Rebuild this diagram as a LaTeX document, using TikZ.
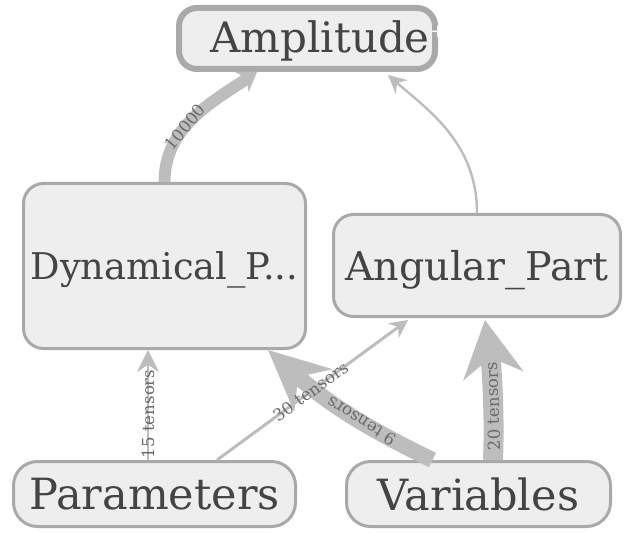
\documentclass[tikz,border=0pt]{standalone}
\usepackage{fontspec}
\setmainfont{DejaVu Serif}
\usepackage{xcolor}
\usetikzlibrary{arrows.meta}
\definecolor{boxfill}{HTML}{EEEEEE}
\definecolor{boxline}{HTML}{A9A9A9}
\definecolor{edgeline}{HTML}{BDBDBD}
\definecolor{nodetext}{HTML}{444444}
\definecolor{labeltext}{HTML}{6A6A6A}
\tikzset{opbox/.style={draw=boxline, fill=boxfill, line width=1.5pt,
  rounded corners=10pt, inner sep=0pt, text=nodetext, text depth=0pt}}
\tikzset{flow/.style={draw=edgeline}}
\tikzset{tlabel/.style={sloped, allow upside down, inner sep=0pt,
  font=\fontsize{8.3}{9}\selectfont, text=labeltext}}

\begin{document}
\begin{tikzpicture}[x=0.5pt, y=-0.5pt]
\useasboundingbox (0,0) rectangle (624,533);

\node[opbox, line width=3pt, rounded corners=9pt, minimum width=128pt, minimum height=30.5pt] (amp) at (307,38.5) {};
\node[text=nodetext, text depth=0pt, font=\fontsize{21}{23}\selectfont] (amptext) at (320,37) {Amplitude};
\node[text=white, font=\fontsize{9}{9}\selectfont] (ampplus) at (438,32) {+};

\node[opbox, minimum width=141pt, minimum height=82.5pt, font=\fontsize{18.4}{20}\selectfont] (dyn) at (164.5,266) {Dynamical\_P...};
\node[opbox, minimum width=143.5pt, minimum height=51pt, font=\fontsize{19.8}{22}\selectfont] (ang) at (477,265.5) {Angular\_Part};
\node[opbox, rounded corners=12pt, minimum width=141pt, minimum height=32.5pt, font=\fontsize{21.5}{23}\selectfont] (par) at (154.5,494) {Parameters};
\node[opbox, rounded corners=12pt, minimum width=132pt, minimum height=32.5pt, font=\fontsize{21.5}{23}\selectfont] (var) at (478.5,494) {Variables};

\coordinate (p15) at ([xshift=-3.25pt]par.north);

\draw[flow, line width=6pt, -{Stealth[length=9pt, width=12pt]}] (dyn.north) .. controls +(0,-55) and +(-45,30) .. ([xshift=-25pt]amp.south) node[tlabel, pos=0.41] (l10000) {10000};
\draw[flow, line width=1.2pt, -{Stealth[length=9pt, width=9pt]}] (ang.north) .. controls +(0,-70) and +(40,35) .. ([xshift=40.5pt, yshift=-1.5pt]amp.south);
\draw[flow, line width=1pt, -{Stealth[length=11pt, width=11pt]}] (p15) -- (p15 |- dyn.south) node[tlabel, pos=0.42] (l15) {15 tensors};
\draw[flow, line width=8pt, -{Stealth[length=30pt, width=28pt]}] ([xshift=-23pt]var.north) to[bend left=8] node[tlabel, pos=0.4] (l9) {9 tensors} ([xshift=51.75pt]dyn.south);
\draw[flow, line width=1.5pt, -{Stealth[length=9pt, width=9pt]}] ([xshift=31.25pt]par.north) -- ([xshift=-34.5pt, yshift=-1pt]ang.south) node[tlabel, pos=0.49] (l30) {30 tensors};
\draw[flow, line width=10pt, -{Stealth[length=28pt, width=30pt]}] ([xshift=7.25pt]var.north) .. controls +(2,-50) and +(6,40) .. ([xshift=4pt, yshift=-1pt]ang.south) node[tlabel, pos=0.36] (l20) {20 tensors};
\end{tikzpicture}
\end{document}
